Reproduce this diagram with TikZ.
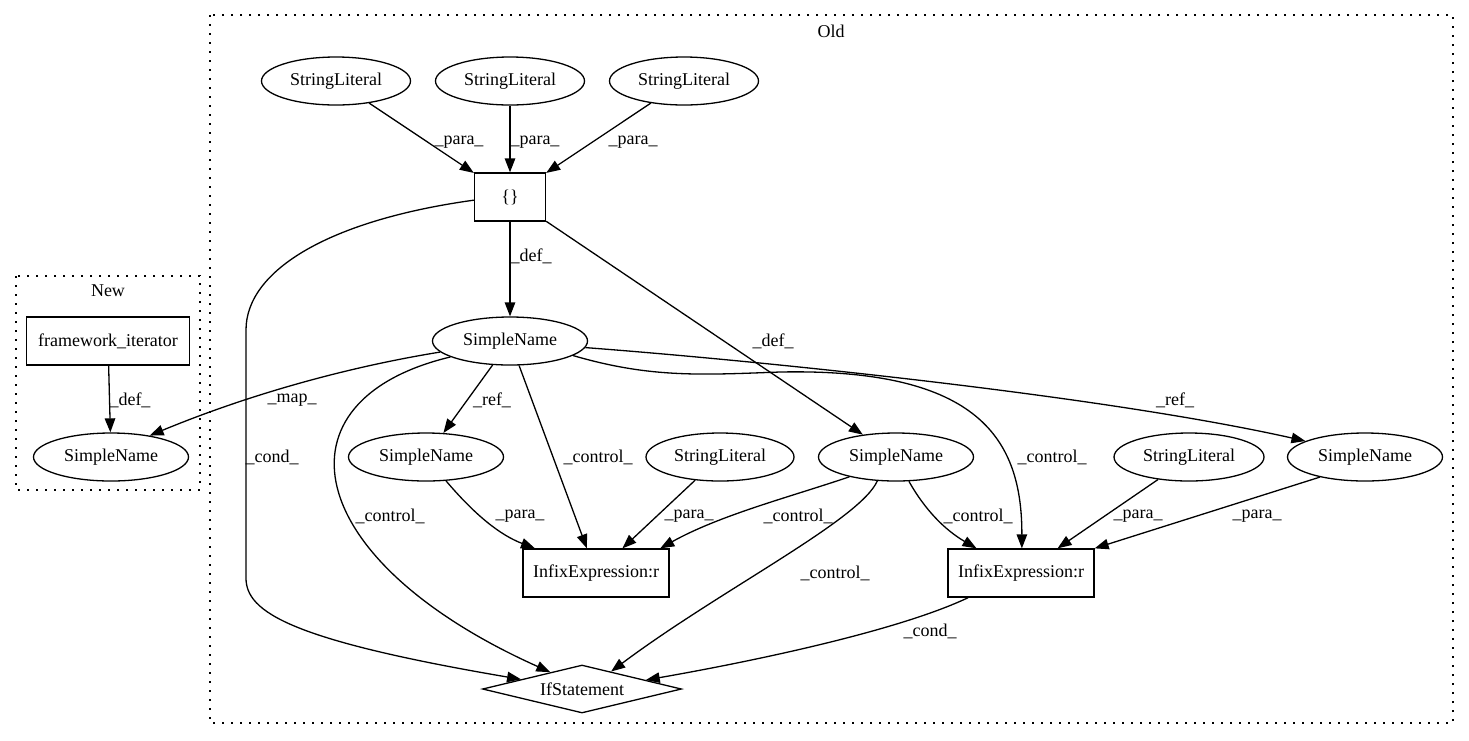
\documentclass[tikz,border=0pt]{standalone}
\usepackage{fontspec}
\setmainfont{Liberation Serif}
\usetikzlibrary{shapes.geometric,arrows.meta}

\begin{document}
\begin{tikzpicture}[x=1pt,y=-1pt,line width=1.3pt,
  font=\fontsize{18}{21}\selectfont,
  ellin/.style={ellipse,draw,minimum height=48pt,inner sep=0pt},
  boxn/.style={rectangle,draw,minimum height=48pt,inner sep=0pt},
  arr/.style={-{Triangle[length=14pt,width=10.5pt]}},
  lbl/.style={inner sep=0pt},
  cluster/.style={draw,dash pattern=on 2pt off 7pt}]
\useasboundingbox (0,0) rectangle (1469,740);

\draw[cluster] (210,15) rectangle (1453,723);
\node[lbl] (oldlbl) at (831,31) {Old};
\draw[cluster] (16,276) rectangle (200,490);
\node[lbl] (newlbl) at (108,291) {New};

\node[ellin,minimum width=149pt] (sl1) at (336,81) {StringLiteral};
\node[ellin,minimum width=149pt] (sl2) at (510,81) {StringLiteral};
\node[ellin,minimum width=149pt] (sl3) at (684,81) {StringLiteral};
\node[boxn,minimum width=71pt] (br) at (510,197) {\{\}};
\node[ellin,minimum width=155pt] (sn) at (510,341) {SimpleName};
\node[ellin,minimum width=155pt] (sn1) at (426,457) {SimpleName};
\node[ellin,minimum width=148pt] (sl4) at (720,457) {StringLiteral};
\node[ellin,minimum width=155pt] (sn3) at (896,457) {SimpleName};
\node[ellin,minimum width=150pt] (sl5) at (1189,457) {StringLiteral};
\node[ellin,minimum width=155pt] (sn4) at (1365,457) {SimpleName};
\node[boxn,minimum width=146pt] (ie1) at (596,573) {InfixExpression:r};
\node[boxn,minimum width=146pt] (ie2) at (1021,573) {InfixExpression:r};
\node[diamond,draw,aspect=4,minimum width=199pt,minimum height=48pt,inner sep=0pt] (ifs) at (582,689) {IfStatement};
\node[boxn,minimum width=163pt] (fi) at (108,341) {framework\_iterator};
\node[ellin,minimum width=155pt] (snn) at (111,457) {SimpleName};

\draw[arr] (sl1) -- (br);
\draw[arr] (sl2) -- (br);
\draw[arr] (sl3) -- (br);
\draw[arr] (br) -- (sn);
\draw[arr] (br) -- (sn3);
\draw[arr] (br.185) .. controls (330,220) and (246,270) .. (246,330) -- (246,578) .. controls (246,612) and (290,640) .. (ifs.171);
\draw[arr] (sn.189) .. controls (360,365) and (260,390) .. (snn.29);
\draw[arr] (sn) -- (sn1);
\draw[arr] (sn) -- (ie1);
\draw[arr] (sn.195) .. controls (270,400) and (300,560) .. (ifs.152);
\draw[arr] (sn.-13) .. controls (650,378) and (700,375) .. (780,372) .. controls (980,368) and (1022,440) .. (ie2.88);
\draw[arr] (sn.-5) .. controls (750,360) and (1100,395) .. (sn4.165);
\draw[arr] (sn1.-50) .. controls (475,515) and (500,535) .. (ie1.158);
\draw[arr] (sl4.223) -- (ie1.43);
\draw[arr] (sn3.203) .. controls (790,497) and (720,515) .. (ie1.21);
\draw[arr] (sn3.232) .. controls (860,520) and (720,590) .. (ifs.31);
\draw[arr] (sn3.-62) .. controls (925,510) and (945,530) .. (ie2.151);
\draw[arr] (sl5.216) -- (ie2.34);
\draw[arr] (sn4.204) -- (ie2.north east);
\draw[arr] (ie2.205) .. controls (900,630) and (760,660) .. (ifs.8);
\draw[arr] (fi) -- (snn);

\node[lbl] (lpara1) at (459,142) {\_para\_};
\node[lbl] (lpara2) at (535,142) {\_para\_};
\node[lbl] (lpara3) at (633,142) {\_para\_};
\node[lbl] (ldef1) at (531,256) {\_def\_};
\node[lbl] (ldef2) at (773,341) {\_def\_};
\node[lbl] (lcond1) at (272,457) {\_cond\_};
\node[lbl] (lmap) at (292,400) {\_map\_};
\node[lbl] (lref1) at (492,400) {\_ref\_};
\node[lbl] (lctl1) at (598,457) {\_control\_};
\node[lbl] (lctl2) at (390,516) {\_control\_};
\node[lbl] (lctl3) at (1052,457) {\_control\_};
\node[lbl] (lref2) at (1175,400) {\_ref\_};
\node[lbl] (lpara4) at (520,516) {\_para\_};
\node[lbl] (lpara5) at (689,516) {\_para\_};
\node[lbl] (lctl4) at (798,516) {\_control\_};
\node[lbl] (lctl5) at (835,573) {\_control\_};
\node[lbl] (lctl6) at (978,516) {\_control\_};
\node[lbl] (lpara6) at (1138,516) {\_para\_};
\node[lbl] (lpara7) at (1257,516) {\_para\_};
\node[lbl] (lcond2) at (930,631) {\_cond\_};
\node[lbl] (ldef3) at (130,400) {\_def\_};
\end{tikzpicture}
\end{document}
